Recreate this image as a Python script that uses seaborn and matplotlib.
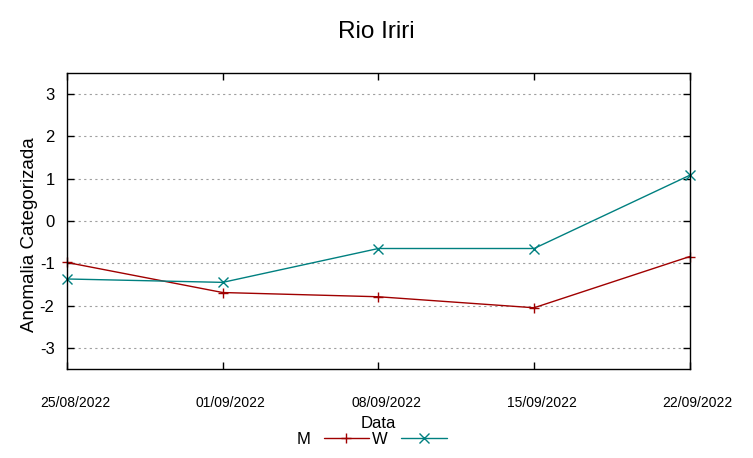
import numpy as np
import pandas as pd
import matplotlib
matplotlib.use("Agg")
import matplotlib.pyplot as plt
import matplotlib.transforms as mtransforms
import seaborn as sns

# data
dates = ["25/08/2022", "01/09/2022", "08/09/2022", "15/09/2022", "22/09/2022"]
m_values = [-0.98, -1.69, -1.79, -2.05, -0.84]
w_values = [-1.37, -1.45, -0.65, -0.65, 1.08]
yticks = [-3, -2, -1, 0, 1, 2, 3]

sns.set_style("white")
plt.rcParams["font.family"] = ["Liberation Sans", "DejaVu Sans"]
plt.rcParams["text.color"] = "black"
plt.rcParams["axes.labelcolor"] = "black"
plt.rcParams["xtick.color"] = "black"
plt.rcParams["ytick.color"] = "black"

df = pd.DataFrame({
    "pos": list(range(len(dates))) * 2,
    "valor": m_values + w_values,
    "serie": ["M"] * len(dates) + ["W"] * len(dates),
})

palette = {"M": "#a00000", "W": "#008080"}
markers = {"M": "+", "W": "x"}

fig = plt.figure(figsize=(7.53, 4.58), dpi=100)
ax = fig.add_axes([0.089, 0.194, 0.827, 0.647])

for s in ["M", "W"]:
    sub = df[df["serie"] == s]
    sns.lineplot(data=sub, x="pos", y="valor", color=palette[s],
                 marker=markers[s], markersize=6.5, markeredgewidth=1.0,
                 markeredgecolor=palette[s], linewidth=1.0, label=s, ax=ax,
                 clip_on=False)

ax.set_xlim(0, len(dates) - 1)
ax.set_ylim(-3.5, 3.5)
ax.set_xticks(range(len(dates)))
ax.set_xticklabels(dates, fontsize=10)
ax.set_yticks(yticks)
ax.set_yticklabels([str(t) for t in yticks], fontsize=12)
ax.tick_params(axis="both", direction="in", length=5, width=1,
               top=True, right=True, left=True, bottom=True, color="black")
ax.tick_params(axis="x", pad=19)
ax.tick_params(axis="y", pad=9)
ax.grid(True, axis="y", color="#a0a0a0", linestyle=(0, (2, 3)), linewidth=0.8)
for sp in ax.spines.values():
    sp.set_visible(True)
    sp.set_color("black")
    sp.set_linewidth(1.0)

# gnuplot puts the date labels a bit to the right of the ticks
shift = mtransforms.ScaledTranslation(8 / 100, 0, fig.dpi_scale_trans)
for lbl in ax.get_xticklabels():
    lbl.set_transform(lbl.get_transform() + shift)

ax.set_xlabel("Data", fontsize=12, labelpad=5)
ax.set_ylabel("Anomalia Categorizada", fontsize=13.5, labelpad=1, y=0.455)
fig.suptitle("Rio Iriri", fontsize=17.5, y=0.955)

ax.legend(loc="center", bbox_to_anchor=(0.489, -0.237), ncol=2,
          frameon=False, markerfirst=False, fontsize=12, handlelength=2.75,
          columnspacing=0.15, handletextpad=0.8, borderpad=0)

fig.savefig("out.png", dpi=100)
